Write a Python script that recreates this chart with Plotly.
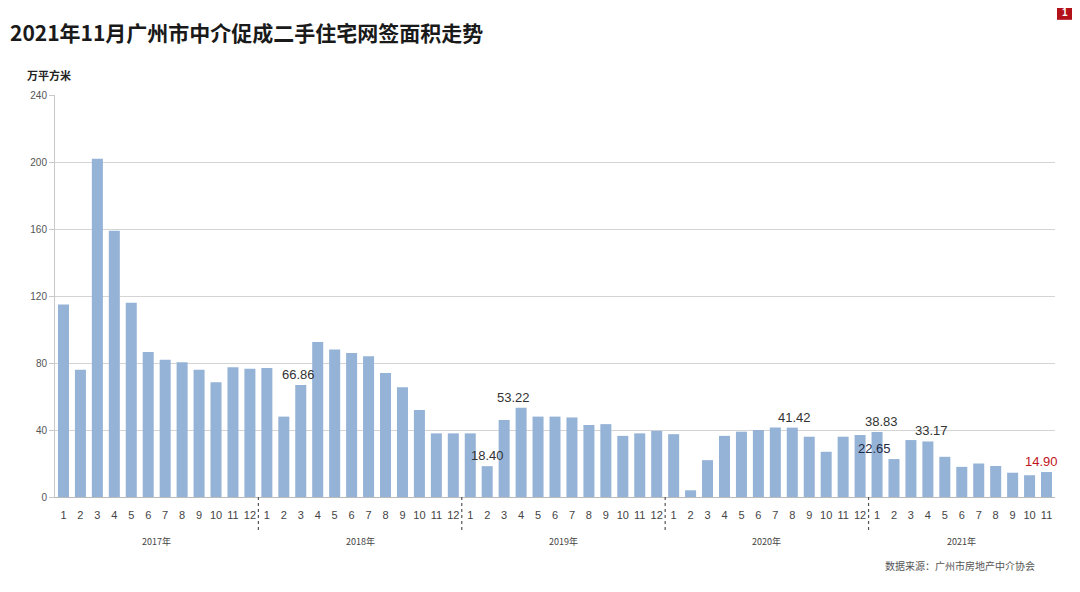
import plotly.graph_objects as go

years = ["2017年", "2018年", "2019年", "2020年", "2021年"]
months_per_year = [12, 12, 12, 12, 11]

values_2017 = [115, 76, 202, 159, 116, 86.5, 82, 80.5, 76, 68.5, 77.5, 76.5]
values_2018 = [77, 48, 66.86, 92.5, 88, 86, 84, 74, 65.5, 52, 38, 38]
values_2019 = [38, 18.40, 46, 53.22, 48, 48, 47.5, 43, 43.5, 36.5, 38, 39.5]
values_2020 = [37.5, 4, 22, 36.5, 39, 40, 41.5, 41.42, 36, 27, 36, 37]
values_2021 = [38.83, 22.65, 34, 33.17, 24, 18, 20, 18.5, 14.5, 13, 14.90]

values = values_2017 + values_2018 + values_2019 + values_2020 + values_2021
month_labels = []
for n in months_per_year:
    month_labels += [str(m) for m in range(1, n + 1)]
xs = list(range(len(values)))

# labelled bars: (index, text, xshift, color)
labelled = [
    (14, "66.86", -2, "#333333"),
    (25, "18.40", 0, "#333333"),
    (27, "53.22", -8, "#333333"),
    (43, "41.42", 2, "#333333"),
    (48, "38.83", 4, "#333333"),
    (49, "22.65", -19, "#1f2a44"),
    (51, "33.17", 4, "#333333"),
    (58, "14.90", -5, "#C0141C"),
]

FONT = "Noto Sans CJK SC, Noto Sans, sans-serif"

fig = go.Figure()
fig.add_trace(go.Bar(
    x=xs, y=values,
    marker=dict(color="#95B3D7", line=dict(width=0)),
    hoverinfo="x+y",
))

annotations = []
for idx, txt, dx, col in labelled:
    annotations.append(dict(
        x=xs[idx], y=values[idx], xref="x", yref="y", text=txt,
        showarrow=False, yanchor="bottom", yshift=1, xshift=dx,
        font=dict(family="Liberation Sans, Arial, sans-serif", size=13, color=col),
    ))

# year labels and separators
start = 0
shapes = []
for yr, n in zip(years, months_per_year):
    center = start + (n - 1) / 2
    annotations.append(dict(
        x=center, y=-0.11, xref="x", yref="paper", text=yr, showarrow=False,
        font=dict(family=FONT, size=9, color="#444444"), yanchor="middle",
    ))
    if start > 0:
        shapes.append(dict(
            type="line", xref="x", yref="paper", x0=start - 0.5, x1=start - 0.5,
            y0=0, y1=-0.085, line=dict(color="#555555", width=1.2, dash="dot"),
        ))
    start += n

annotations += [
    dict(x=-0.047, y=(497 - 32) / 402, xref="paper", yref="paper",
         text="<b>2021年11月广州市中介促成二手住宅网签面积走势</b>",
         showarrow=False, xanchor="left", yanchor="middle",
         font=dict(family=FONT, size=21, color="#1a1a1a")),
    dict(x=-0.03, y=1.05, xref="paper", yref="paper", text="<b>万平方米</b>",
         showarrow=False, xanchor="left", yanchor="middle",
         font=dict(family=FONT, size=11, color="#222222")),
    dict(x=0.982, y=-0.17, xref="paper", yref="paper", text="数据来源：广州市房地产中介协会",
         showarrow=False, xanchor="right", yanchor="middle",
         font=dict(family=FONT, size=10, color="#555555")),
    dict(x=1.0095, y=1.205, xref="paper", yref="paper", text="<b>1</b>",
         showarrow=False, xanchor="center", yanchor="middle",
         font=dict(family="Liberation Sans, sans-serif", size=10, color="white")),
]

shapes.append(dict(type="rect", xref="paper", yref="paper",
                   x0=1.002, x1=1.017, y0=1.187, y1=1.224,
                   fillcolor="#B3121B", line=dict(width=0)))

# page body has an 8px margin: size/margins compensate so the plot sits at the reference pixels
fig.update_layout(
    width=1072, height=584,
    margin=dict(l=47, r=25, t=87, b=95),
    paper_bgcolor="white", plot_bgcolor="white",
    bargap=0.35,
    showlegend=False,
    annotations=annotations,
    shapes=shapes,
    xaxis=dict(
        tickmode="array", tickvals=xs, ticktext=month_labels,
        range=[-0.5, len(values) - 0.5], showgrid=False, zeroline=False,
        showline=True, linecolor="#bbbbbb", ticks="", ticklabelstandoff=8,
        tickfont=dict(family="Liberation Sans, Arial, sans-serif", size=11, color="#444444"),
        fixedrange=True,
    ),
    yaxis=dict(
        range=[0, 240], tickmode="array", tickvals=[0, 40, 80, 120, 160, 200, 240],
        showgrid=True, gridcolor="#d4d4d4", gridwidth=1, zeroline=False,
        showline=True, linecolor="#c8c8c8", ticks="outside", ticklen=5, tickcolor="#c8c8c8",
        tickfont=dict(family="Liberation Sans, Arial, sans-serif", size=10, color="#555555"),
        fixedrange=True,
    ),
)

fig.write_html("out.html")
